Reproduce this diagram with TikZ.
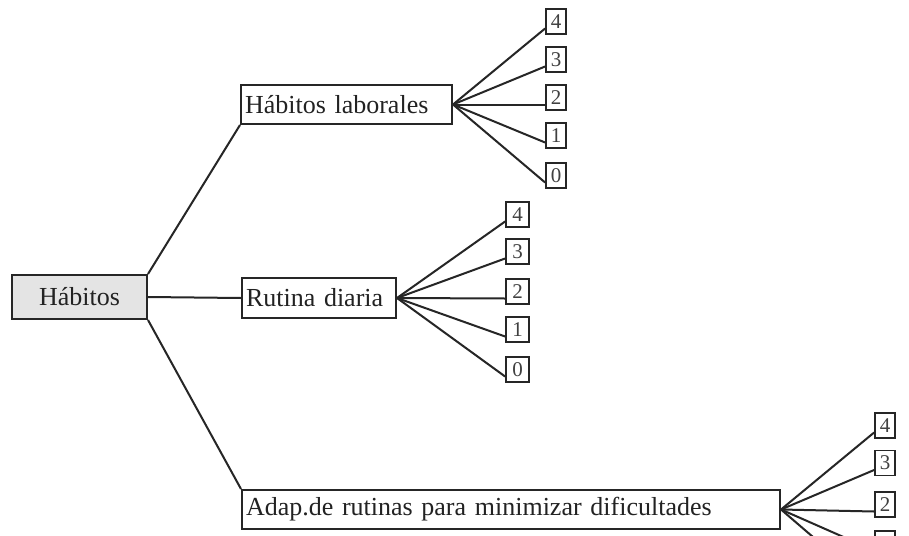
\documentclass[tikz,border=0pt]{standalone}
\usepackage{fontspec}
\setmainfont{Liberation Serif}
\usetikzlibrary{calc}
\definecolor{ink}{HTML}{262626}
\definecolor{txt}{HTML}{222222}
\definecolor{digit}{HTML}{404040}
\definecolor{habfill}{HTML}{E4E4E4}
\begin{document}
\begin{tikzpicture}[x=1pt,y=-1pt,
  mainbox/.style={draw=ink, line width=2pt, rectangle, inner xsep=4pt, inner ysep=0pt,
    align=left, text=txt, font=\fontsize{26}{28}\selectfont},
  leaf/.style={draw=ink, line width=1.8pt, rectangle, minimum width=20pt, minimum height=25pt,
    inner sep=0pt, text=digit, font=\fontsize{21}{22}\selectfont},
  conn/.style={draw=ink, line width=2pt}]
\useasboundingbox (0,0) rectangle (909,535);
\clip (0,0) rectangle (909,535);
\fill[white] (0,0) rectangle (909,535);

% main nodes
\node[mainbox, fill=habfill, minimum width=135pt, minimum height=44pt, align=center] (hab) at (79.5,297) {Hábitos};
\node[mainbox, text width=203pt, minimum height=39pt] (lab) at (346.5,104.5) {Hábitos laborales};
\node[mainbox, text width=146pt, minimum height=40pt] (rut) at (319,298) {Rutina diaria};
\node[mainbox, text width=530pt, minimum height=39pt] (adap) at (511,509.5) {Adap.de rutinas para minimizar dificultades};

% connectors from root
\draw[conn] (hab.north east) -- (lab.south west);
\draw[conn] (hab.east) -- (rut.west);
\draw[conn] (hab.south east) -- (adap.north west);

% leaves of group 1
\foreach \i/\yy in {4/21.5,3/59.5,2/97.5,1/135.5,0/175.5}{
  \node[leaf] (la\i) at (556,\yy) {\i};
  \draw[conn] (lab.east) -- ($(la\i.west)+(0,7)$);
}
% leaves of group 2
\foreach \i/\yy in {4/214.5,3/251.5,2/291.5,1/329.5,0/369.5}{
  \node[leaf, minimum width=23pt] (ru\i) at (517.5,\yy) {\i};
  \draw[conn] (rut.east) -- ($(ru\i.west)+(0,7)$);
}
% leaves of group 3
\foreach \i/\yy in {4/425.5,3/463,2/504.5,1/543.5,0/582.5}{
  \node[leaf] (ad\i) at (885,\yy) {\i};
  \draw[conn] (adap.east) -- ($(ad\i.west)+(0,7)$);
}
\end{tikzpicture}
\end{document}
